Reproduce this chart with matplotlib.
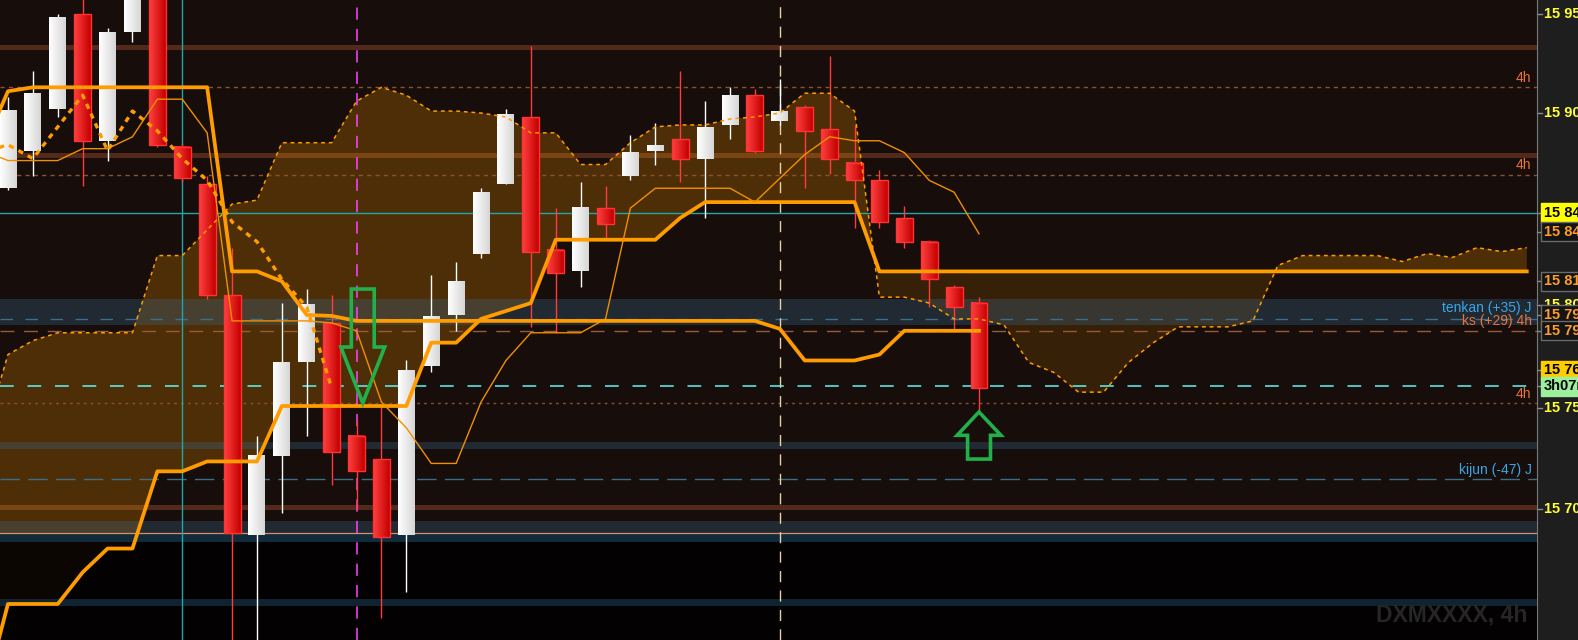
import numpy as np
import matplotlib.pyplot as plt
from matplotlib.colors import LinearSegmentedColormap
from matplotlib.patches import Rectangle, Polygon
from matplotlib.transforms import blended_transform_factory

plt.rcParams['font.family'] = ['Liberation Sans', 'DejaVu Sans']

# --- candles (4h), index 0..39 ---
opens = [15862, 15881, 15902, 15950, 15886, 15941, 15965, 15883, 15864, 15808,
         15687, 15727, 15774, 15794, 15737, 15725, 15687, 15772, 15798, 15829,
         15864, 15898, 15831, 15820, 15852, 15868, 15881, 15887, 15877, 15894,
         15909, 15896, 15903, 15892, 15875, 15866, 15847, 15835, 15812, 15804]
highs = [15908, 15921, 15950, 15962, 15943, 15966, 15970, 15885, 15868, 15832,
         15737, 15804, 15811, 15808, 15745, 15752, 15775, 15818, 15825, 15862,
         15902, 15934, 15852, 15865, 15863, 15889, 15895, 15921, 15906, 15913,
         15912, 15917, 15904, 15929, 15894, 15871, 15853, 15836, 15813, 15807]
lows = [15861, 15868, 15898, 15863, 15876, 15936, 15883, 15865, 15806, 15625,
        15628, 15698, 15737, 15712, 15700, 15645, 15658, 15769, 15790, 15827,
        15864, 15792, 15789, 15812, 15836, 15866, 15874, 15865, 15847, 15887,
        15880, 15894, 15862, 15869, 15842, 15842, 15832, 15802, 15790, 15749]
closes = [15901, 15910, 15948, 15886, 15941, 15962, 15884, 15867, 15808, 15688,
          15727, 15774, 15803, 15729, 15719, 15686, 15770, 15797, 15815, 15860,
          15899, 15830, 15819, 15852, 15844, 15880, 15884, 15877, 15893, 15909,
          15881, 15901, 15891, 15877, 15866, 15845, 15835, 15816, 15802, 15761]

# --- ichimoku lines, index -1..39 ---
tenkan = [15881, 15876, 15876, 15876, 15882, 15882, 15888, 15907, 15907, 15890,
          15795, 15795, 15795, 15795, 15794, 15790, 15754, 15741, 15723, 15723,
          15754, 15775, 15789, 15789, 15789, 15796, 15852, 15862, 15862, 15862,
          15862, 15855, 15867, 15879, 15888, 15886, 15886, 15880, 15866, 15860,
          15839]
kijun = [15882, 15911, 15913, 15913, 15913, 15913, 15913, 15913, 15913, 15913,
         15820, 15820, 15815, 15798, 15797.5, 15795, 15795, 15795, 15795, 15795,
         15795, 15795, 15795, 15795, 15795, 15795, 15795, 15795, 15795, 15795,
         15795, 15795, 15791, 15775, 15775, 15775, 15778, 15790, 15790, 15790,
         15790]
# --- cloud spans, index -1..61 ---
span_a = [15735, 15778, 15785, 15789, 15789, 15789, 15789, 15828, 15828, 15841,
          15854, 15856, 15885, 15885, 15885, 15906, 15913, 15909, 15901, 15901,
          15900, 15898, 15890, 15890, 15874, 15874, 15885, 15893, 15894, 15894,
          15897, 15898, 15900, 15910, 15910, 15901, 15807, 15807, 15804, 15796,
          15796, 15793, 15774, 15769, 15759, 15759, 15774, 15784, 15792, 15792,
          15792, 15795, 15823, 15828, 15828, 15828, 15828, 15825, 15829, 15827,
          15832, 15830, 15832]
span_b = [15604, 15652, 15652, 15652, 15668, 15680, 15680, 15719, 15719, 15724,
          15724, 15724, 15752, 15752, 15752, 15752, 15752, 15752, 15784, 15784,
          15796, 15800, 15804, 15836, 15836, 15836, 15836, 15836, 15847, 15855,
          15855, 15855, 15855, 15855, 15855, 15855] + [15820] * 27

# --- levels ---
brown_levels = [15933.3, 15878.8, 15701.0]
h4_levels = [15913.1, 15868.7, 15753.5]
cyan_level = 15849.5
last_price = 15762
tenkan_j, ks_4h, kijun_j = 15796, 15790, 15715
vlines_idx = [7, 14, 31]

axis_plain = [(15950, '15 950'), (15900, '15 900'), (15803, '15 800'),
              (15751, '15 750'), (15700, '15 700')]
axis_boxes = [(15849.5, '15 849', '#ffff00', '#000000', '#ffff00'),
              (15840, '15 840', '#141414', '#ff9d2a', '#6a6a6a'),
              (15815, '15 815', '#141414', '#ff9d2a', '#6a6a6a'),
              (15798, '15 798', '#141414', '#ff9d2a', '#6a6a6a'),
              (15790, '15 790', '#141414', '#ff9d2a', '#6a6a6a'),
              (15770, '15 762', '#ffcc00', '#000000', '#ffcc00'),
              (15762, '3h07m', '#9cef9c', '#000000', '#9cef9c')]

fig = plt.figure(figsize=(15.78, 6.4), dpi=100, facecolor='#1e1e1e')
ax = fig.add_axes([0, 0, 1537 / 1578, 1])
ax.set_facecolor('#170d0a')
y_top, y_bot = 15957.1, 15633.8
x_left, x_right = -0.32, 61.41
tr = blended_transform_factory(ax.transAxes, ax.transData)

for lvl in brown_levels:
    ax.axhline(lvl, color='#52291a', lw=3.6, zorder=1)

# cloud
xc = np.arange(-1, len(span_a) - 1)
a = np.array(span_a, float)
b = np.array(span_b, float)
ax.fill_between(xc, a, b, where=a >= b, interpolate=True, color='#ff9a00',
                alpha=0.24, lw=0, zorder=2)
ax.fill_between(xc, a, b, where=a < b, interpolate=True, color='#ff9a00',
                alpha=0.14, lw=0, zorder=2)

# bands
for lo, hi in [(15792.9, 15806.1), (15730.3, 15733.8), (15688.0, 15694.0)]:
    ax.axhspan(lo, hi, color='#386a8e', alpha=0.31, lw=0, zorder=2.5)

# level lines
for lvl in h4_levels[:2]:
    ax.axhline(lvl, color='#8c5032', lw=1, dashes=(3, 3), zorder=3)
ax.axhline(h4_levels[2], color='#8c5032', lw=1, dashes=(2, 3), zorder=3)
ax.axhline(cyan_level, color='#22a8a8', lw=1, zorder=3)
ax.axhline(tenkan_j, color='#3a6e8a', lw=1, dashes=(9, 9), zorder=3)
ax.axhline(ks_4h, color='#9a5a3a', lw=1, dashes=(10, 7), zorder=3)
ax.axhline(kijun_j, color='#3a6e8a', lw=1, dashes=(14, 6), zorder=3)
ax.axhline(last_price, color='#5ff5f5', lw=1.1, dashes=(9, 9), zorder=3)

# lower dark area
ax.axhspan(y_bot - 10, 15683.3, color='#000000', alpha=0.85, lw=0, zorder=3.5)
ax.axhspan(15683.3, 15688.0, color='#112b3b', lw=0, zorder=3.6)
ax.axhspan(15651.0, 15654.5, color='#0f2331', lw=0, zorder=3.6)
ax.axhline(15688.0, color='#d9906a', lw=0.9, zorder=3.7)

# vertical markers
ax.axvline(vlines_idx[0], color='#22a8a8', lw=1, zorder=4)
ax.axvline(vlines_idx[1], color='#ff44ff', lw=1.1, dashes=(8, 6), zorder=4)
ax.axvline(vlines_idx[2], color='#e8d0a0', lw=1, dashes=(8, 6), zorder=4)

# candles
n = len(closes)
xi = np.arange(n)
w = 0.68
grad = np.linspace(0, 1, 32).reshape(1, -1)
cm_red = LinearSegmentedColormap.from_list('r', ['#ff4040', '#c40000'])
cm_wht = LinearSegmentedColormap.from_list('w', ['#ffffff', '#d6d6d6'])
for i in range(n):
    up = closes[i] >= opens[i]
    ax.vlines(i, lows[i], highs[i], color='#ffffff' if up else '#ff3b3b',
              lw=1, zorder=5.5)
    lo, hi = min(opens[i], closes[i]), max(opens[i], closes[i])
    ax.imshow(grad, cmap=cm_wht if up else cm_red, aspect='auto',
              extent=(i - w / 2, i + w / 2, lo, hi), interpolation='bilinear',
              zorder=6)
    if not up:
        ax.add_patch(Rectangle((i - w / 2, lo), w, hi - lo, fill=False,
                               ec='#ff3333', lw=1, zorder=6.1))

# ichimoku lines
xl = np.arange(-1, n)
ax.plot(xc, span_a, color='#ff9c00', lw=1.1, dashes=(2.5, 2.5), zorder=7)
ax.plot(xc, span_b, color='#ff9c00', lw=2.7, zorder=7)
ax.plot(xl, tenkan, color='#f09000', lw=1.0, zorder=7)
ax.plot(xl, kijun, color='#ff9c00', lw=2.7, zorder=7)
ax.plot(xi - 26, closes, color='#ff9c00', lw=2.4, dashes=(1.6, 1.6), zorder=7)

# green arrows
def arrow(x, tip, head, total, down):
    s, h = 0.46, 0.88
    sign = 1 if down else -1
    base = tip + sign * head
    end = tip + sign * total
    pts = [(x - s, end), (x + s, end), (x + s, base), (x + h, base), (x, tip),
           (x - h, base), (x - s, base)]
    ax.add_patch(Polygon(pts, closed=True, fill=False, ec='#22b04a', lw=2.6,
                         joinstyle='miter', zorder=8))

arrow(14.25, 15753.5, 28.3, 57.6, True)
arrow(39, lows[39], 11.8, 23.8, False)

# on-chart labels
lab = dict(ha='right', va='center', fontsize=10, transform=tr, zorder=9)
for lvl in h4_levels:
    ax.text(0.9965, lvl + 4.8, '4h', color='#e8743c', **lab)
ax.text(0.9965, tenkan_j + 5.5, 'tenkan (+35) J', color='#3aa6e6', **lab)
ax.text(0.9965, ks_4h + 5.0, 'ks (+29) 4h', color='#e8743c', **lab)
ax.text(0.9965, kijun_j + 4.7, 'kijun (-47) J', color='#3aa6e6', **lab)
ax.text(0.9935, 0.039, 'DXMXXXX, 4h', ha='right', va='center', fontsize=16.5,
        fontweight='bold', color='#262626', transform=ax.transAxes, zorder=9)

# right price axis
for p, t in axis_plain:
    ax.plot([1.0, 1.0035], [p, p], color='#8c8c8c', lw=1, transform=tr,
            clip_on=False)
    ax.text(1.0046, p, t, color='#ffff33', fontsize=10.5, fontweight='bold',
            ha='left', va='center', transform=tr, clip_on=False)
for p, t, fc, tc, ec in axis_boxes:
    ax.plot([1.0, 1.0035], [p, p], color='#8c8c8c', lw=1, transform=tr,
            clip_on=False)
    ax.text(1.0046, p, t, color=tc, fontsize=10.5, fontweight='bold',
            ha='left', va='center', transform=tr, clip_on=False,
            bbox=dict(boxstyle='square,pad=0.18', fc=fc, ec=ec, lw=1))

for side in ['top', 'bottom', 'left']:
    ax.spines[side].set_visible(False)
ax.spines['right'].set_color('#7a7a7a')
ax.set_xticks([])
ax.set_yticks([])
ax.set_xlim(x_left, x_right)
ax.set_ylim(y_bot, y_top)

fig.savefig('out.png', dpi=100, facecolor=fig.get_facecolor())
